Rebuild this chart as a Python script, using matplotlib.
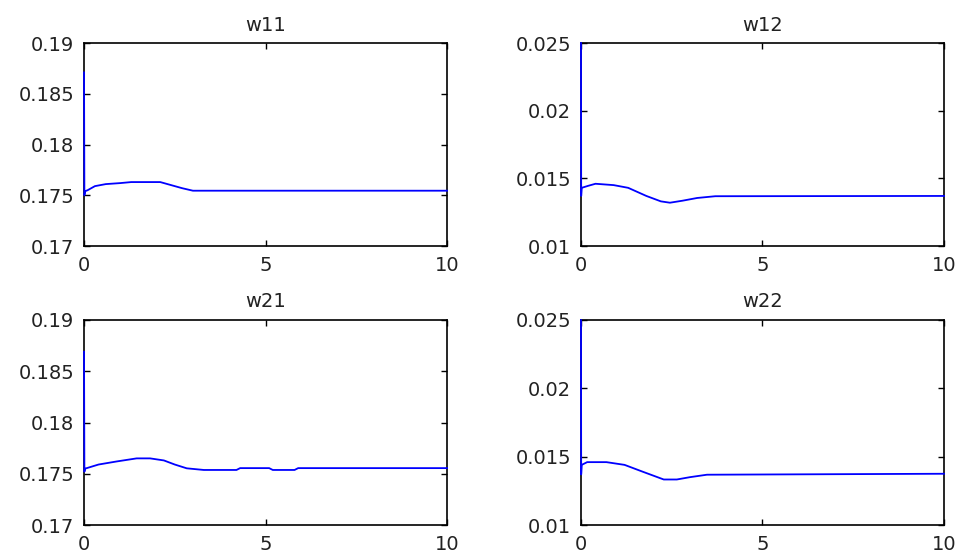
import matplotlib
matplotlib.use("Agg")
import matplotlib.pyplot as plt
from matplotlib.ticker import FormatStrFormatter

# time samples and weight trajectories (hand-read breakpoints)
t_w11 = [0.0, 0.01, 0.03, 0.1, 0.3, 0.6, 1.0, 1.3, 2.1, 2.4, 2.7, 3.0, 10.0]
w11 = [0.1871, 0.1750, 0.1754, 0.1755, 0.1759, 0.1761, 0.1762, 0.1763, 0.1763, 0.1760, 0.1757, 0.17545, 0.17545]

t_w12 = [0.0, 0.005, 0.02, 0.2, 0.4, 0.9, 1.3, 1.8, 2.2, 2.45, 2.8, 3.2, 3.7, 10.0]
w12 = [0.025, 0.0137, 0.0143, 0.01445, 0.0146, 0.0145, 0.0143, 0.0137, 0.0133, 0.0132, 0.01335, 0.01355, 0.01368, 0.0137]

t_w21 = [0.0, 0.01, 0.03, 0.4, 0.9, 1.45, 1.82, 2.2, 2.5, 2.83, 3.3, 4.2, 4.3, 5.1, 5.2, 5.8, 5.9, 10.0]
w21 = [0.1869, 0.1752, 0.1755, 0.1759, 0.1762, 0.1765, 0.1765, 0.1763, 0.1759, 0.17553, 0.17537, 0.17537, 0.17555, 0.17555, 0.17537, 0.17537, 0.17555, 0.17555]

t_w22 = [0.0, 0.005, 0.02, 0.17, 0.7, 1.2, 1.7, 2.28, 2.64, 3.0, 3.47, 10.0]
w22 = [0.025, 0.0137, 0.0144, 0.0146, 0.0146, 0.0144, 0.0139, 0.01333, 0.01333, 0.0135, 0.01368, 0.01375]

titles = ["w11", "w12", "w21", "w22"]
series = [(t_w11, w11), (t_w12, w12), (t_w21, w21), (t_w22, w22)]
ylims = [(0.17, 0.19), (0.01, 0.025), (0.17, 0.19), (0.01, 0.025)]
yticks = [[0.17, 0.175, 0.18, 0.185, 0.19],
          [0.01, 0.015, 0.02, 0.025],
          [0.17, 0.175, 0.18, 0.185, 0.19],
          [0.01, 0.015, 0.02, 0.025]]
xticks = [0, 5, 10]

plt.rcParams['font.family'] = ['DejaVu Sans']
plt.rcParams['font.size'] = 14

fig = plt.figure(figsize=(9.57, 5.52), dpi=100)

# axes boxes: [left, bottom, width, height]
boxes = [
    [0.0878, 0.5543, 0.3793, 0.3678],
    [0.6071, 0.5543, 0.3793, 0.3678],
    [0.0878, 0.0489, 0.3793, 0.3714],
    [0.6071, 0.0489, 0.3793, 0.3714],
]

for box, title, (t, w), ylim, yt in zip(boxes, titles, series, ylims, yticks):
    ax = fig.add_axes(box)
    # line sits above the spines (unclipped) so the jump at t=0 shows on the left edge
    ax.plot(t, w, color='#0000ff', linewidth=1.3, zorder=3, clip_on=False)
    ax.set_xlim(0, 10)
    ax.set_ylim(*ylim)
    ax.set_xticks(xticks)
    ax.set_yticks(yt)
    ax.yaxis.set_major_formatter(FormatStrFormatter('%g'))
    ax.tick_params(direction='in', length=4, width=1, top=True, right=True,
                   colors='black', labelcolor='#222222', pad=7)
    for sp in ax.spines.values():
        sp.set_linewidth(1.2)
    ax.set_title(title, fontsize=14, pad=9, color='#222222')

fig.savefig("out.png", dpi=100)
